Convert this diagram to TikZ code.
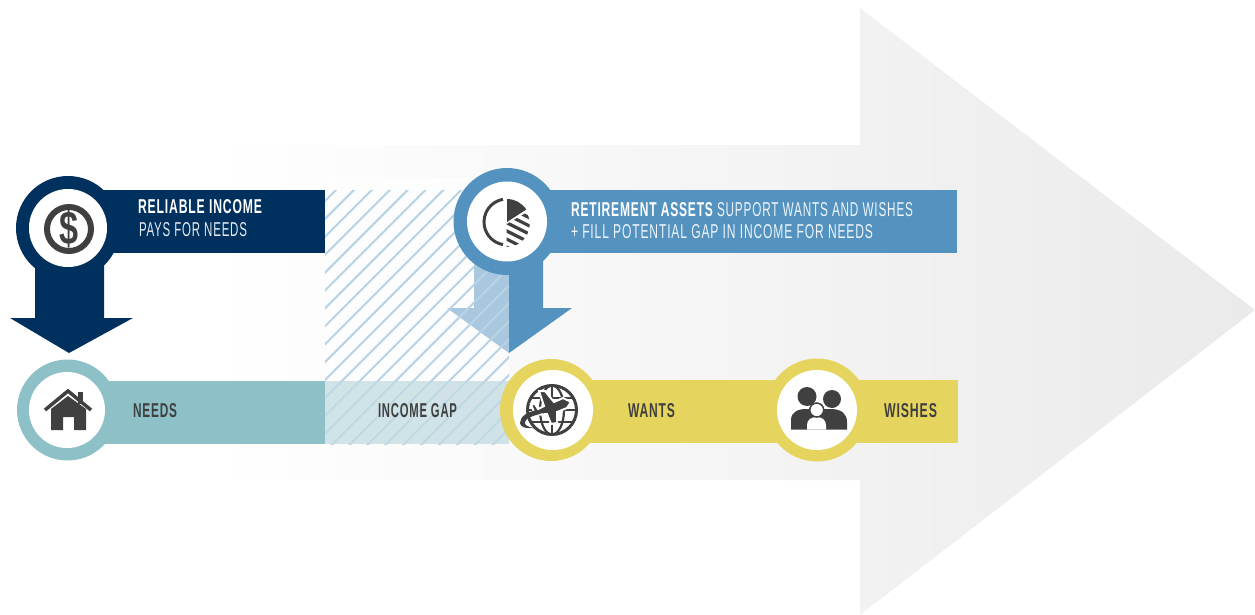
\documentclass[tikz,border=0pt]{standalone}
\usepackage{graphicx}
\usepackage{fontspec}
\setmainfont{Liberation Sans}
\usetikzlibrary{positioning}
\definecolor{navyc}{HTML}{00305E}
\definecolor{tealc}{HTML}{8DC0C7}
\definecolor{bluec}{HTML}{5493BF}
\definecolor{yellowc}{HTML}{E5D55E}
\definecolor{iconc}{HTML}{404040}
\definecolor{hatchc}{HTML}{B8D2E6}
\definecolor{gapc}{HTML}{C2DBE1}
\definecolor{paleblue}{HTML}{A9C8DF}
\definecolor{fademid}{HTML}{F3F3F3}
\definecolor{fadeend}{HTML}{EAEAEA}
\newcommand{\fit}[3]{\resizebox{#1pt}{#2pt}{\addfontfeature{LetterSpace=7}#3}}
\tikzset{
  ring/.style={circle,inner sep=0pt,minimum size=#1pt},
  lbl/.style={anchor=south west,inner sep=0pt,outer sep=0pt},
  icon/.style={fill=iconc,draw=none}
}
\begin{document}
\begin{tikzpicture}[x=1pt,y=-1pt]
\useasboundingbox (0,0) rectangle (1255,615);
% big arrow behind
\shade[left color=white,middle color=fademid,right color=fadeend]
  (210,145) -- (860,145) -- (860,8) -- (1255,310) -- (860,615) -- (860,480) -- (210,480) -- cycle;
\fill[white,opacity=.6] (325,178) rectangle (509,381);
% bars
\fill[navyc] (68,190) rectangle (325,253);
\fill[tealc] (68,381) rectangle (325,444);
\fill[bluec] (507,190) rectangle (957,253);
\fill[yellowc] (551,380) rectangle (958,443);
% pale half of the blue arrow
\fill[paleblue] (474,260) -- (509,260) -- (509,353) -- (447,308) -- (474,308) -- cycle;
% hatching
\begin{scope}
\clip (325,190) rectangle (509,444);
\foreach \k in {-1,...,24}
  \draw[hatchc,line width=2pt] ({526+\k*17.9-180},180) -- ({526+\k*17.9-460},460);
\end{scope}
\fill[gapc,opacity=.75] (325,381) rectangle (509,444);
% down arrows
\fill[navyc] (35,260) -- (104,260) -- (104,318) -- (133,318) -- (69,353) -- (10,318) -- (35,318) -- cycle;
\fill[bluec] (509,260) -- (543,260) -- (543,308) -- (572,308) -- (509,353) -- cycle;
% circles
\node[ring=104,fill=navyc] (incomering) at (68,228) {};
\node[ring=78,fill=white] (incomedisc) at (68,228) {};
\node[ring=101,fill=tealc] (needsring) at (67.5,410) {};
\node[ring=76,fill=white] (needsdisc) at (67,410) {};
\node[ring=107,fill=bluec] (assetsring) at (507,221.5) {};
\node[ring=80,fill=white] (assetsdisc) at (507,221.5) {};
\node[ring=102,fill=yellowc] (wantsring) at (551,410) {};
\node[ring=80,fill=white] (wantsdisc) at (553,410) {};
\node[ring=103,fill=yellowc] (wishesring) at (817,410) {};
\node[ring=80,fill=white] (wishesdisc) at (817,410) {};
% dollar
\node[ring=44,draw=iconc,line width=6pt] (dollar) at (69,229) {};
\node[text=iconc,inner sep=0pt] (dollarsign) at (69,229) {\resizebox{19pt}{35pt}{\bfseries\$}};
% house
\fill[iconc] (78,392) rectangle (83,404);
\draw[iconc,line width=3.5pt] (45,410) -- (68,391) -- (91,410);
\fill[iconc] (51,409) -- (68,396) -- (86,409) -- (86,430) -- (74,430) -- (74,417) -- (63,417) -- (63,430) -- (51,430) -- cycle;
% pie
\draw[iconc,line width=3pt] (503,199.3) arc[start angle=100,end angle=260,radius=23pt];
\fill[iconc] (507,199) -- (507,222) -- (526.3,209.5) arc[start angle=33,end angle=90,radius=23pt] -- cycle;
\begin{scope}
\clip (506.7,224) -- (526.6,212.5) arc[start angle=30,end angle=-90,radius=23pt] -- cycle;
\foreach \k in {0,...,6}
  \draw[iconc,line width=3.2pt] (500,{203+\k*8.2}) -- (540,{223+\k*8.2});
\end{scope}
% globe
\draw[iconc,line width=3pt] (552,410) circle[radius=24.5pt];
\draw[iconc,line width=2.2pt] (552,410) ellipse[x radius=12pt,y radius=24.5pt];
\draw[iconc,line width=2.2pt] (552,386) -- (552,434);
\draw[iconc,line width=2.2pt] (531,398) -- (573,398) (528,410) -- (576,410) (531,422) -- (573,422);
\path[icon,draw=white,line width=2pt] (571,402) -- (563,398) -- (554,402) -- (545,391) -- (539,391) -- (544,406) -- (538,409) -- (535,404) -- (531,404) -- (535,415) -- (547,414) -- (551,424) -- (557,423) -- (557,412) -- (567,408) -- cycle;
\fill[iconc] (539,410) .. controls (527,411) and (520,417) .. (520,423) .. controls (520,427) and (526,429) .. (534,428) .. controls (528,427) and (524,425) .. (525,422) .. controls (526,418) and (532,416) .. (540,414) -- cycle;
% family
\fill[iconc] (791,429.5) -- (791,420) .. controls (791,412) and (798,409) .. (806,409) -- (830,409) .. controls (842,409) and (847,414) .. (847,422) -- (847,429.5) -- cycle;
\fill[iconc] (807,396.5) circle[radius=9.5pt] (832,399) circle[radius=9pt];
\fill[white] (807,429.5) -- (807,425) .. controls (807,420) and (811,417) .. (816.5,417) .. controls (822,417) and (826,420) .. (826,425) -- (826,429.5) -- cycle;
\node[ring=14,fill=white,draw=iconc,line width=1.5pt] (child) at (816.7,410) {};
% texts
\node[lbl,text=white] (reliable) at (138,214) {\fit{124}{14}{\bfseries RELIABLE INCOME}};
\node[lbl,text=white!90!navyc] (pays) at (139,237) {\fit{108}{14}{PAYS FOR NEEDS}};
\node[lbl,text=iconc] (needs) at (133,418) {\fit{44}{14}{\bfseries NEEDS}};
\node[lbl,text=iconc] (gap) at (378,418) {\fit{79}{14}{\bfseries INCOME GAP}};
\node[lbl,text=iconc] (wants) at (628,418) {\fit{47}{14}{\bfseries WANTS}};
\node[lbl,text=iconc] (wishes) at (884,418) {\fit{53}{14}{\bfseries WISHES}};
\node[lbl,text=white] (assets) at (571,216.5) {\fit{142}{14}{\bfseries RETIREMENT ASSETS}};
\node[lbl,text=white!90!bluec,right=4pt of assets] (support) {\fit{196}{14}{SUPPORT WANTS AND WISHES}};
\node[lbl,text=white!90!bluec] (fill) at (571,239) {\fit{302}{14}{+ FILL POTENTIAL GAP IN INCOME FOR NEEDS}};
\end{tikzpicture}
\end{document}
